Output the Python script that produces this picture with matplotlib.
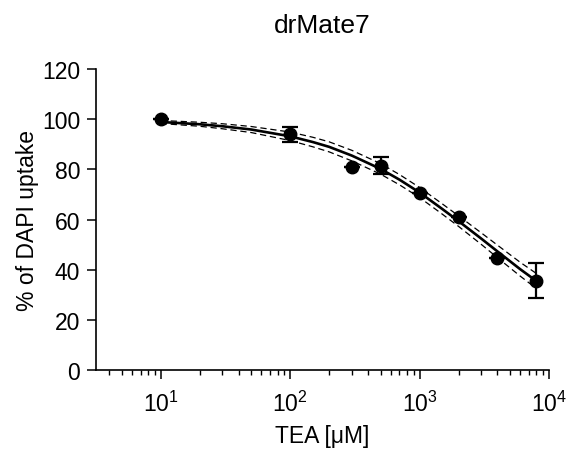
import numpy as np
import matplotlib
matplotlib.use("Agg")
import matplotlib.pyplot as plt
from matplotlib.ticker import LogLocator, FixedLocator, NullFormatter

plt.rcParams['font.family'] = ['Liberation Sans', 'DejaVu Sans']
plt.rcParams['mathtext.default'] = 'regular'

# measured points
tea_um = [10, 100, 300, 500, 1000, 2000, 4000, 8000]
uptake = [100.0, 94.0, 81.0, 81.5, 70.5, 61.0, 44.8, 35.6]
err = [0, 3.0, 0, 3.5, 0, 0, 0, 7.0]

# fitted curve and its confidence band
fit_x = [10, 20, 30, 50, 100, 150, 200, 300, 500, 700, 1000, 1500, 2000, 3000, 4000, 6000, 8000]
fit_y = [98.9, 98.0, 97.2, 95.9, 93.2, 90.9, 89.0, 85.5, 80.2, 75.9, 70.8, 64.2, 59.4, 52.4, 47.3, 40.2, 35.5]
band = [0.6, 0.8, 1.0, 1.2, 1.7, 1.9, 2.0, 2.1, 2.1, 2.05, 2.0, 2.05, 2.1, 2.3, 2.5, 2.75, 3.0]

fit_y = np.array(fit_y)
band = np.array(band)

fig = plt.figure(figsize=(5.8, 4.52), dpi=100)
ax = fig.add_axes([0.1655, 0.179, 0.781, 0.666])

ax.plot(fit_x, fit_y, color='black', lw=1.9, zorder=3)
ax.plot(fit_x, fit_y + band, color='black', lw=0.9, ls=(0, (5, 3)), zorder=2)
ax.plot(fit_x, fit_y - band, color='black', lw=0.9, ls=(0, (5, 3)), zorder=2)
ax.errorbar(tea_um, uptake, yerr=err, fmt='o', color='black', ms=9,
            elinewidth=1.6, capsize=5.5, capthick=1.6, zorder=4)

ax.set_xscale('log')
ax.set_xlim(10 ** 0.5, 1e4)
ax.set_ylim(0, 120)
ax.set_yticks(range(0, 121, 20))
ax.xaxis.set_major_locator(FixedLocator([1e1, 1e2, 1e3, 1e4]))
ax.set_xticklabels(['$10^{1}$', '$10^{2}$', '$10^{3}$', '$10^{4}$'])
ax.xaxis.set_minor_locator(LogLocator(base=10, subs=np.arange(2, 10), numticks=20))
ax.xaxis.set_minor_formatter(NullFormatter())

for s in ['top', 'right']:
    ax.spines[s].set_visible(False)
for s in ['left', 'bottom']:
    ax.spines[s].set_linewidth(1.2)

ax.tick_params(axis='both', which='major', direction='out', length=6.5, width=1.1,
               labelsize=16.5)
ax.tick_params(axis='x', which='major', pad=8)
ax.tick_params(axis='y', which='major', pad=5)
ax.tick_params(axis='x', which='minor', direction='out', length=3.6, width=1.0)

ax.set_title('drMate7', fontsize=19, pad=26.5)
ax.set_xlabel('TEA [μM]', fontsize=16.5, labelpad=6)
ax.set_ylabel('% of DAPI uptake', fontsize=16.5, labelpad=2)

fig.savefig('out.png', dpi=100)
